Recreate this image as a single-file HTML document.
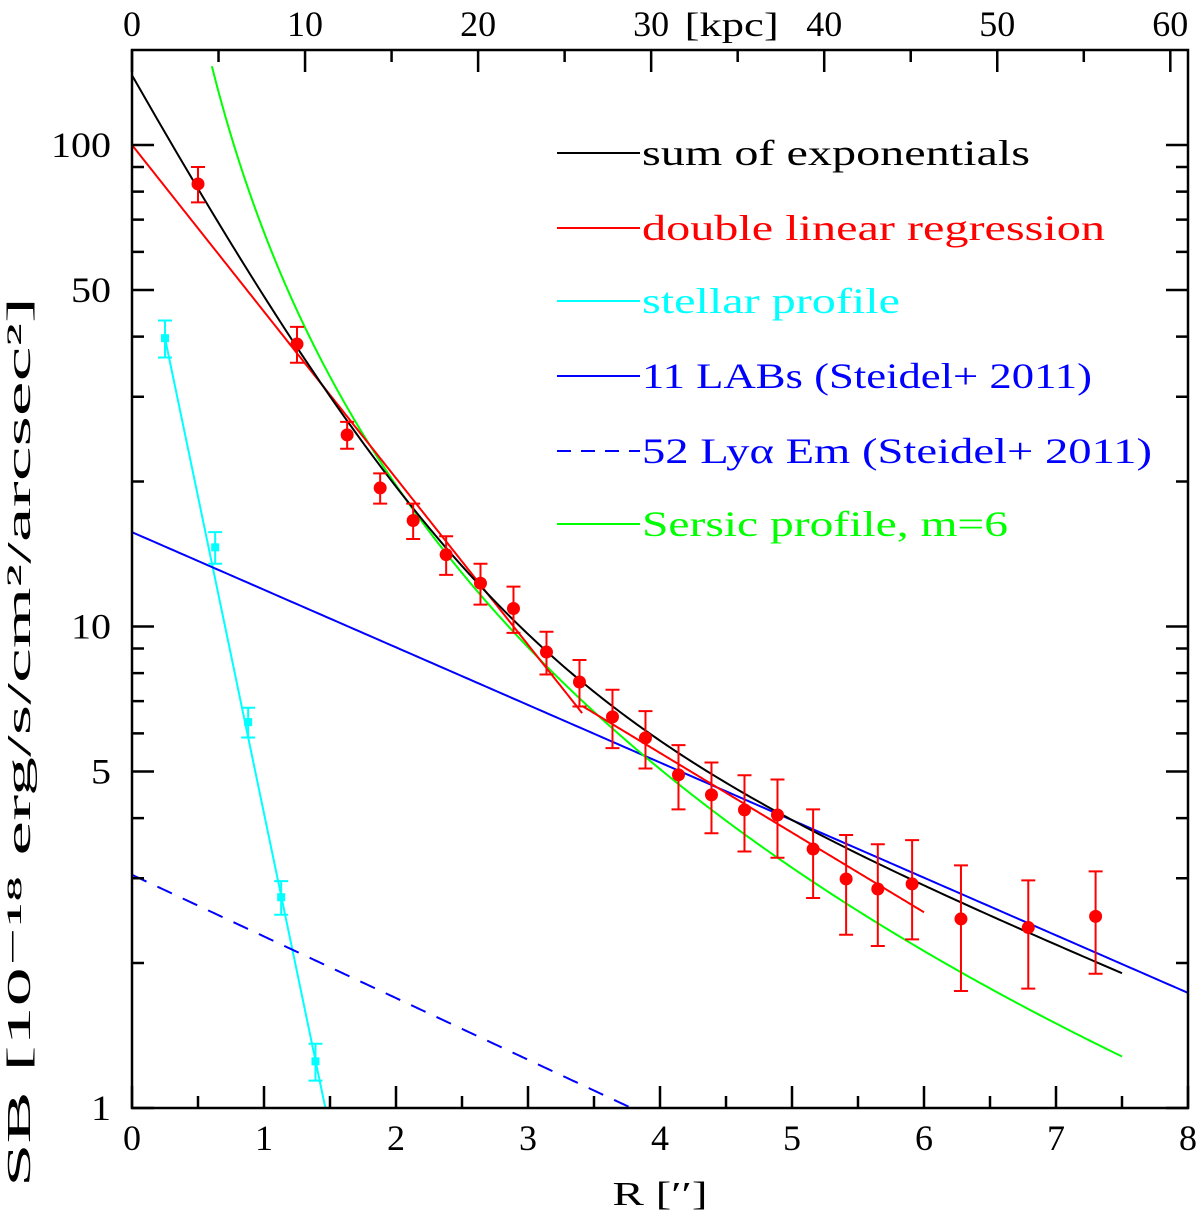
<!DOCTYPE html>
<html><head><meta charset="utf-8"><style>
html,body{margin:0;padding:0;background:#fff}
svg text{font-family:"Liberation Serif","DejaVu Serif",serif}
</style></head><body>
<svg id="chart" width="1200" height="1218" xmlns="http://www.w3.org/2000/svg">
<g id="marks"></g>
<g id="axes"></g>
<g id="legend"></g>
</svg>
<script>
const obsR=[0.5,1.25,1.63,1.88,2.13,2.38,2.64,2.89,3.14,3.39,3.64,3.89,4.14,4.39,4.64,4.89,5.16,5.41,5.65,5.91,6.28,6.79,7.3];
const obsSB=[83,38.6,25,19.4,16.6,14.1,12.3,10.9,8.85,7.67,6.49,5.87,4.92,4.47,4.16,4.06,3.45,2.99,2.85,2.92,2.47,2.37,2.5];
const obsErr=[7,3.3,1.6,1.4,1.4,1.3,1.2,1.2,0.9,0.85,0.9,0.8,0.75,0.75,0.75,0.75,0.72,0.7,0.68,0.68,0.72,0.6,0.6];
const starR=[0.25,0.63,0.88,1.13,1.39];
const starSB=[39.7,14.6,6.33,2.74,1.25];
const starErr=[3.5,1.1,0.45,0.22,0.11];
const xTicks=[0,1,2,3,4,5,6,7,8];
const yTicks=[1,5,10,50,100];
const kpcTicks=[0,10,20,30,40,50,60];
const expParams=[126,0.835,13.6,3.8];
const dlr1=[100,6.61,0,3.41];
const dlr2=[6.84,2.55,3.41,6.0];
const stellarLine=[84.7,1.316];
const labLine=[15.7,0.1196];
const lyaLine=[3.05,0.128];
const sersic=[14.065,9.877];

const X0=132,X1=1188,Y0=50,Y1=1108;
const sx=r=>X0+r*(X1-X0)/8;
const sy=v=>Y1-Math.log10(v)*481.5;
const kpcPerArc=10/1.311;
const NS="http://www.w3.org/2000/svg";
function mk(tag,attrs,parent){const e=document.createElementNS(NS,tag);for(const k in attrs)e.setAttribute(k,attrs[k]);parent.appendChild(e);return e;}
const marks=document.getElementById('marks'),axes=document.getElementById('axes'),leg=document.getElementById('legend');

function curve(f,r0,r1,color,name,dash){
  let d='';const n=200;
  for(let i=0;i<=n;i++){const r=r0+(r1-r0)*i/n;let v=f(r);let y=sy(v);if(y<Y0)continue;if(y>Y1)y=Y1;d+=(d?'L':'M')+sx(r).toFixed(2)+','+y.toFixed(2);}
  const p=mk('path',{d:d,fill:'none',stroke:color,'stroke-width':2},marks);
  if(dash)p.setAttribute('stroke-dasharray',dash);
  
  
}
curve(r=>stellarLine[0]*Math.pow(10,-stellarLine[1]*r),0.25,1.5,'#00ffff','stellar-profile-line');
curve(r=>lyaLine[0]*Math.pow(10,-lyaLine[1]*r),0,3.8,'#0000ff','lya-emitters-line','16,12');
curve(r=>labLine[0]*Math.pow(10,-labLine[1]*r),0,8,'#0000ff','labs-line');
curve(r=>Math.exp(sersic[0]-sersic[1]*Math.pow(r,1/6)),0.5,7.5,'#00ff00','sersic-line');
curve(r=>dlr1[0]*Math.pow(dlr1[1]/dlr1[0],(r-dlr1[2])/(dlr1[3]-dlr1[2])),dlr1[2],dlr1[3],'#ff0000','double-linear-regression-inner');
curve(r=>dlr2[0]*Math.pow(dlr2[1]/dlr2[0],(r-dlr2[2])/(dlr2[3]-dlr2[2])),dlr2[2],dlr2[3],'#ff0000','double-linear-regression-outer');
curve(r=>expParams[0]*Math.exp(-r/expParams[1])+expParams[2]*Math.exp(-r/expParams[3]),0,7.5,'#000000','sum-of-exponentials-line');

function points(R,V,E,color,name,sq){
  for(let i=0;i<R.length;i++){
    const g=mk('g',{},marks);
    
    
    const x=sx(R[i]),yt=sy(V[i]+E[i]),yb=sy(V[i]-E[i]),y=sy(V[i]);
    mk('path',{d:`M${x},${yt}L${x},${yb}M${x-7},${yt}L${x+7},${yt}M${x-7},${yb}L${x+7},${yb}`,stroke:color,'stroke-width':2,fill:'none'},g);
    if(sq)mk('rect',{x:x-4,y:y-4,width:8,height:8,fill:color},g);
    else mk('circle',{cx:x,cy:y,r:6.5,fill:color},g);
  }
}
points(starR,starSB,starErr,'#00ffff','stellar-data-point',true);
points(obsR,obsSB,obsErr,'#ff0000','sb-data-point',false);

const frame=mk('rect',{x:X0,y:Y0,width:X1-X0,height:Y1-Y0,fill:'none',stroke:'#000','stroke-width':2.5},axes);


let td='';
for(let r=0;r<=8;r+=0.5){const x=sx(r),L=(r%1===0)?22:12;td+=`M${x},${Y1}L${x},${Y1-L}`;}
for(let k=0;k<=60;k+=5){const x=sx(k/kpcPerArc);if(x>X1)break;const L=(k%10===0)?22:12;td+=`M${x},${Y0}L${x},${Y0+L}`;}
for(let d=0;d<3;d++)for(let m=1;m<10;m++){const v=m*Math.pow(10,d);const y=sy(v);if(y<Y0)continue;const L=(m===1||m===5)?22:12;td+=`M${X0},${y}L${X0+L},${y}M${X1},${y}L${X1-L},${y}`;}
mk('path',{d:td,stroke:'#000','stroke-width':2.5,fill:'none'},axes);
xTicks.forEach(t=>{const e=mk('text',{x:sx(t),y:1150,'font-size':36,'text-anchor':'middle'},axes);e.textContent=t;
  
  });
yTicks.forEach(t=>{const e=mk('text',{x:111,y:sy(t)+12,'font-size':36,'text-anchor':'end',textLength:String(t).length*20,lengthAdjust:'spacingAndGlyphs'},axes);e.textContent=t;
  
  });
kpcTicks.forEach(t=>{const e=mk('text',{x:sx(t/kpcPerArc),y:36,'font-size':36,'text-anchor':'middle'},axes);e.textContent=t;
  
  });
const ku=mk('text',{x:sx(35/kpcPerArc)-6,y:36,'font-size':34,'text-anchor':'middle',textLength:94,lengthAdjust:'spacingAndGlyphs'},axes);ku.textContent='[kpc]';


const xt=mk('text',{x:660,y:1205,'font-size':34,'text-anchor':'middle',textLength:95,lengthAdjust:'spacingAndGlyphs'},axes);xt.textContent="R [\u2032\u2032]";


const yt=mk('text',{x:0,y:0,'font-size':34,'text-anchor':'middle',transform:'translate(30,742) rotate(-90)',textLength:890,lengthAdjust:'spacingAndGlyphs'},axes);
yt.textContent='SB [10\u207B\u00B9\u2078 erg/s/cm\u00B2/arcsec\u00B2]';



const legLabels=['sum of exponentials','double linear regression','stellar profile','11 LABs (Steidel+ 2011)','52 Ly\u03B1 Em (Steidel+ 2011)','Sersic profile, m=6'];
const legColors=['#000000','#ff0000','#00ffff','#0000ff','#0000ff','#00ff00'];
const legWidths=[388,463,258,450,510,366];
const legY=[153,228,301,376,451,524];
legLabels.forEach((t,i)=>{
  const g=mk('g',{},leg);
  
  
  const l=mk('line',{x1:557,x2:640,y1:legY[i],y2:legY[i],stroke:legColors[i],'stroke-width':2},g);
  if(i===4)l.setAttribute('stroke-dasharray','14,10');
  const e=mk('text',{x:642,y:legY[i]+12,'font-size':36,fill:legColors[i],textLength:legWidths[i],lengthAdjust:'spacingAndGlyphs'},g);
  e.textContent=t;
});
</script>
</body></html>
